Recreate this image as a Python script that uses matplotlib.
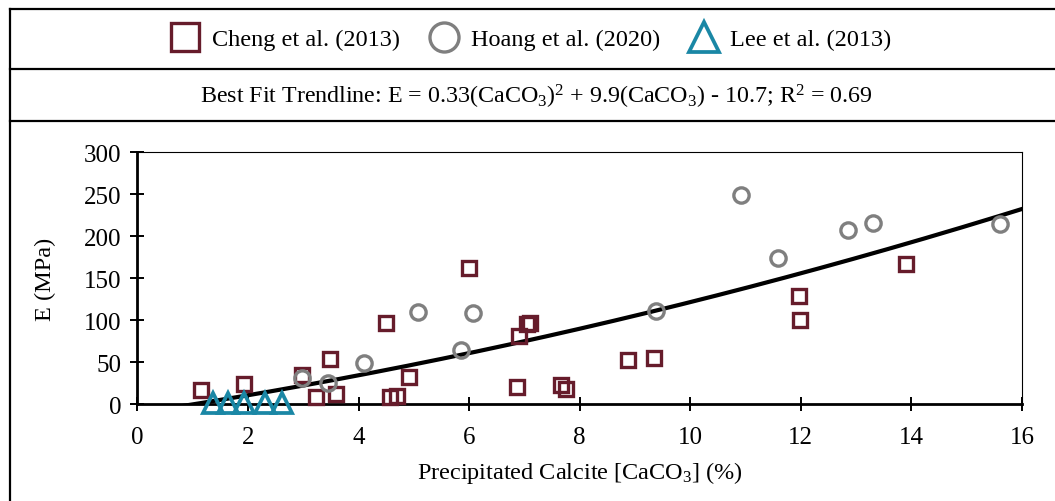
import numpy as np
import matplotlib
matplotlib.use('Agg')
import matplotlib.pyplot as plt
from matplotlib.lines import Line2D

plt.rcParams['font.family'] = ['Liberation Serif', 'DejaVu Serif']
plt.rcParams['mathtext.default'] = 'regular'

# Cheng et al. (2013)
cheng_x = [1.15, 1.93, 2.97, 3.48, 3.24, 3.60, 4.50, 4.57, 4.69, 4.92, 6.00,
           6.86, 6.90, 7.05, 7.10, 7.67, 7.75, 8.88, 9.35, 11.97, 11.98, 13.90]
cheng_y = [17, 24, 34, 53, 8, 12, 97, 8, 10, 32, 162,
           20, 81, 95, 96, 23, 18, 52, 55, 129, 100, 167]

# Hoang et al. (2020)
hoang_x = [2.98, 3.45, 4.10, 5.07, 5.86, 6.07, 9.38, 10.92, 11.58, 12.86, 13.31, 15.61]
hoang_y = [31, 25, 49, 109, 64, 108, 111, 249, 174, 207, 215, 214]

# Lee et al. (2013)
lee_x = [1.36, 1.64, 1.92, 2.31, 2.61]
lee_y = [0.8, 0.8, 0.8, 0.8, 0.8]

# best fit: E = a*x^2 + b*x + c
fit_coef = [0.33, 9.9, -10.7]
fit_range = [0.55, 16]

c_cheng = '#661c2b'
c_hoang = '#7f7f7f'
c_lee = '#1a87a5'

fig = plt.figure(figsize=(10.55, 5.02), dpi=100)
ax = fig.add_axes([0.1302, 0.1932, 0.9687 - 0.1302, 0.6952 - 0.1932])

xf = np.linspace(fit_range[0], fit_range[1], 300)
yf = np.polyval(fit_coef, xf)
# the tail below zero is clipped by the axes, like the original
ax.plot(xf, yf, color='black', lw=3, zorder=2)

ms, mew = 10.5, 2.4
ax.plot(cheng_x, cheng_y, 's', ms=ms, mew=mew, mfc='none', mec=c_cheng, clip_on=False, zorder=3)
ax.plot(hoang_x, hoang_y, 'o', ms=ms + 0.5, mew=mew, mfc='none', mec=c_hoang, clip_on=False, zorder=3)
ax.plot(lee_x, lee_y, '^', ms=ms + 3.5, mew=mew + 0.3, mfc='none', mec=c_lee, clip_on=False, zorder=4)

ax.set_xlim(0, 16)
ax.set_ylim(0, 300)
ax.set_xticks(np.arange(0, 17, 2))
ax.set_yticks(np.arange(0, 301, 50))
ax.tick_params(direction='inout', length=9.5, width=1.4, labelsize=18)
ax.tick_params(axis='x', pad=11)
ax.tick_params(axis='y', pad=7)
ax.spines['left'].set_linewidth(2)
ax.spines['bottom'].set_linewidth(2)
ax.spines['top'].set_linewidth(0.8)
ax.spines['right'].set_linewidth(0.8)

ax.set_xlabel('Precipitated Calcite [CaCO$_3$] (%)', fontsize=17.5, labelpad=8)
ax.set_ylabel('E (MPa)', fontsize=17.5, labelpad=20)

# frame lines around legend / title boxes
H = 502.0
for yp in [10, 69.5, 122]:
    fig.add_artist(Line2D([10 / 1055, 1.0], [1 - yp / H, 1 - yp / H], color='black', lw=1.6))
fig.add_artist(Line2D([10 / 1055, 10 / 1055], [0, 1 - 10 / H], color='black', lw=1.6))

handles = [
    Line2D([], [], ls='none', marker='s', ms=ms, mew=mew, mfc='none', mec=c_cheng),
    Line2D([], [], ls='none', marker='o', ms=ms + 0.5, mew=mew, mfc='none', mec=c_hoang),
    Line2D([], [], ls='none', marker='^', ms=ms + 1, mew=mew + 0.3, mfc='none', mec=c_lee),
]
labels = ['Cheng et al. (2013)', 'Hoang et al. (2020)', 'Lee et al. (2013)']
fig.legend(handles, labels, loc='center', bbox_to_anchor=(0.503, 1 - 40 / H), ncol=3,
           frameon=False, fontsize=17.5, markerscale=1.9, handlelength=1.3,
           handletextpad=0.45, columnspacing=1.15)

fig.text(0.508, 1 - 97 / H,
         'Best Fit Trendline: E = 0.33(CaCO$_3$)$^2$ + 9.9(CaCO$_3$) - 10.7; R$^2$ = 0.69',
         ha='center', va='center', fontsize=17.3)

fig.savefig('out.png', dpi=100)
